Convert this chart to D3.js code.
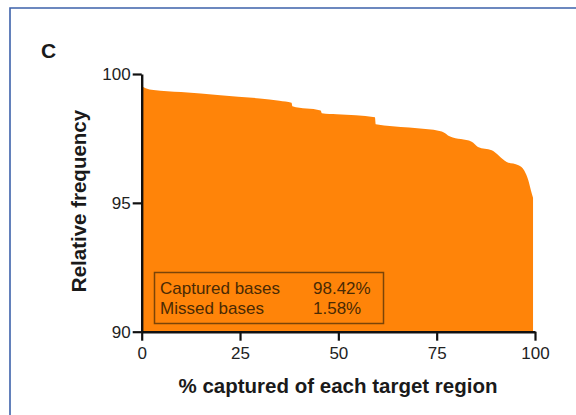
<!DOCTYPE html>
<html>
<head>
<meta charset="utf-8">
<script src="https://cdn.jsdelivr.net/npm/d3@7"></script>
<style>
  html, body { margin: 0; padding: 0; background: #fff; }
  svg { display: block; font-family: "Liberation Sans", Arial, Helvetica, sans-serif; }
</style>
</head>
<body>
<svg id="chart" width="576" height="415"></svg>
<script>
// Cumulative coverage profile: % of each target region captured vs relative frequency
const pctCaptured = [0, 1, 3, 10, 20, 30, 35, 38.1, 38.3, 45.5, 45.8, 49.6, 59.3, 59.5, 68, 76.3, 78.4, 83.9, 85.5, 89, 92.8, 95.8, 97.3, 98.3, 99.2, 99.5];
const relFrequency = [99.52, 99.45, 99.38, 99.3, 99.18, 99.05, 98.96, 98.88, 98.75, 98.58, 98.48, 98.44, 98.32, 98.05, 97.92, 97.77, 97.57, 97.37, 97.17, 97.04, 96.59, 96.46, 96.25, 95.88, 95.35, 95.2];

const xTicks = [0, 25, 50, 75, 100];
const yTicks = [90, 95, 100];

const legendLabels = ["Captured bases", "Missed bases"];
const legendValues = ["98.42%", "1.58%"];

const panelLetter = "C";
const xTitle = "% captured of each target region";
const yTitle = "Relative frequency";

const svg = d3.select("#chart");

// outer panel frame (open to the right and bottom)
svg.append("path")
  .attr("d", "M10,415 L10,8 L576,8")
  .attr("fill", "none")
  .attr("stroke", "#3d62ab")
  .attr("stroke-width", 1.6);

const x = d3.scaleLinear().domain([0, 100]).range([141.7, 535]);
const y = d3.scaleLinear().domain([90, 100]).range([331.7, 74]);

const pts = pctCaptured.map((v, i) => [v, relFrequency[i]]);

const area = d3.area()
  .x(d => x(d[0]))
  .y0(y(90))
  .y1(d => y(d[1]))
  .curve(d3.curveMonotoneX);

svg.append("path")
  .datum(pts)
  .attr("d", area)
  .attr("fill", "#ff8409");

// legend box
const lg = svg.append("g");
lg.append("rect")
  .attr("x", 154.5).attr("y", 272.5)
  .attr("width", 229).attr("height", 51)
  .attr("fill", "none")
  .attr("stroke", "#7a4408")
  .attr("stroke-width", 1.5);
legendLabels.forEach((lab, i) => {
  lg.append("text")
    .attr("x", 160).attr("y", 293.5 + i * 20.5)
    .attr("font-size", 17)
    .attr("fill", "#4a2a04")
    .text(lab);
  lg.append("text")
    .attr("x", 313).attr("y", 293.5 + i * 20.5)
    .attr("font-size", 17)
    .attr("fill", "#4a2a04")
    .text(legendValues[i]);
});

// axes
const xAxis = d3.axisBottom(x).tickValues(xTicks).tickSize(9).tickPadding(6).tickSizeOuter(0);
const yAxis = d3.axisLeft(y).tickValues(yTicks).tickSize(9).tickPadding(2).tickSizeOuter(0);

const gx = svg.append("g").attr("transform", `translate(0,${y(90)})`).call(xAxis);
const gy = svg.append("g").attr("transform", `translate(${x(0)},0)`).call(yAxis);

[gx, gy].forEach(g => {
  g.select(".domain").attr("stroke", "#111").attr("stroke-width", 2.4);
  g.selectAll(".tick line").attr("stroke", "#111").attr("stroke-width", 2.2);
  g.selectAll(".tick text")
    .attr("font-size", 17)
    .attr("fill", "#222")
    .attr("font-family", "'Liberation Sans', Arial, sans-serif");
});

// titles
svg.append("text")
  .attr("x", 338).attr("y", 393)
  .attr("text-anchor", "middle")
  .attr("font-size", 20.5)
  .attr("font-weight", "bold")
  .attr("fill", "#1a1a1a")
  .text(xTitle);

svg.append("text")
  .attr("transform", "translate(86,201) rotate(-90)")
  .attr("text-anchor", "middle")
  .attr("font-size", 20.5)
  .attr("font-weight", "bold")
  .attr("fill", "#1a1a1a")
  .text(yTitle);

svg.append("text")
  .attr("x", 41).attr("y", 58)
  .attr("font-size", 21)
  .attr("font-weight", "bold")
  .attr("fill", "#1a1a1a")
  .text(panelLetter);
</script>
</body>
</html>
